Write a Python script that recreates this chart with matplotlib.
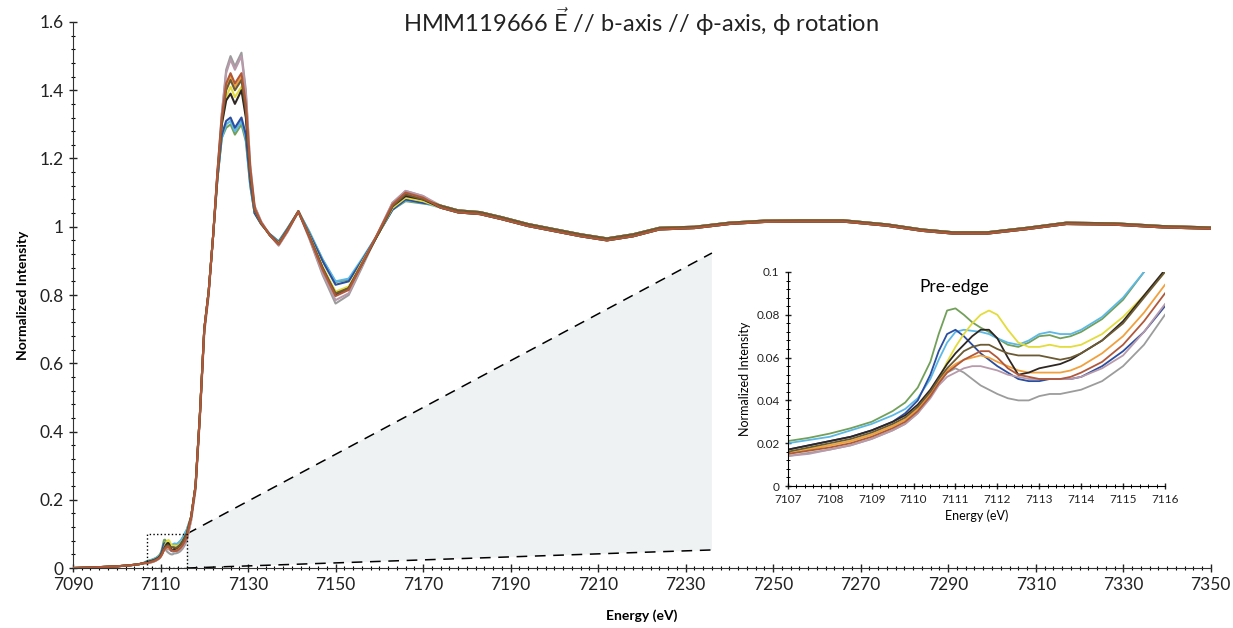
import numpy as np
import matplotlib
matplotlib.use('Agg')
import matplotlib.pyplot as plt
from matplotlib.ticker import MultipleLocator, FuncFormatter

plt.rcParams['font.family'] = ['Lato', 'DejaVu Sans']
plt.rcParams['mathtext.fontset'] = 'custom'
plt.rcParams['mathtext.rm'] = 'Lato'

# ---- data ----
colors = ['#72a05a', '#5cb8e6', '#2b4ea0', '#e3dc3c', '#9c9c9c',
          '#b89aaa', '#f2a03c', '#2e2622', '#6b5a33', '#b0583a']

e_low = [7090, 7095, 7100, 7103, 7105, 7106]
low = [0.0, 0.002, 0.005, 0.008, 0.011, 0.014]

e_pre = [7107, 7107.5, 7108, 7108.5, 7109, 7109.5, 7109.8, 7110.1, 7110.4, 7110.6,
         7110.8, 7111.0, 7111.2, 7111.4, 7111.6, 7111.8, 7112.0, 7112.25, 7112.5,
         7112.75, 7113, 7113.25, 7113.5, 7113.75, 7114, 7114.5, 7115, 7115.5, 7116]
pre_green = [.021, .0225, .0245, .027, .030, .035, .039, .046, .058, .071, .082, .083, .080,
             .0765, .074, .072, .069, .066, .065, .067, .070, .0705, .069, .070, .072, .078,
             .087, .100, .112]
pre_lightblue = [.020, .0215, .023, .026, .029, .033, .036, .041, .050, .059, .067, .072, .073,
                 .0725, .072, .071, .069, .067, .066, .068, .071, .072, .071, .071, .073, .079,
                 .088, .100, .112]
pre_darkblue = [.017, .019, .021, .023, .026, .030, .034, .040, .052, .063, .071, .073, .070,
                .066, .062, .059, .056, .053, .050, .049, .049, .050, .050, .050, .051, .056,
                .063, .072, .084]
pre_yellow = [.016, .0175, .019, .021, .024, .028, .031, .036, .043, .050, .058, .065, .071,
              .076, .080, .082, .080, .073, .067, .065, .065, .066, .065, .065, .066, .071,
              .079, .089, .100]
pre_grey = [.014, .0155, .017, .019, .022, .026, .029, .034, .042, .048, .053, .055, .053,
            .050, .047, .045, .043, .041, .040, .040, .042, .043, .043, .044, .045, .049,
            .056, .066, .080]
pre_mauve = [.014, .015, .017, .019, .022, .026, .029, .034, .041, .047, .051, .053, .055,
             .056, .056, .055, .054, .052, .051, .050, .050, .050, .050, .050, .051, .055,
             .061, .072, .085]
pre_orange = [.015, .017, .019, .021, .024, .028, .031, .036, .043, .049, .054, .057, .059,
              .060, .061, .060, .058, .056, .054, .053, .053, .053, .053, .054, .056, .062,
              .070, .081, .094]
pre_black = [.017, .019, .021, .023, .026, .030, .033, .038, .045, .051, .057, .062, .066,
             .070, .073, .073, .069, .060, .052, .053, .055, .056, .057, .059, .062, .068,
             .077, .089, .101]
pre_darkolive = [.016, .018, .020, .022, .025, .029, .032, .037, .044, .050, .055, .059, .063,
                 .065, .066, .066, .064, .062, .061, .061, .061, .060, .059, .060, .062, .068,
                 .076, .088, .100]
pre_brown = [.015, .0165, .018, .020, .023, .027, .030, .035, .042, .048, .053, .056, .059,
             .061, .063, .063, .060, .055, .052, .051, .050, .050, .050, .051, .053, .058,
             .066, .077, .090]

e_edge = [7117, 7118, 7119, 7120, 7121, 7122, 7123, 7124, 7125, 7126, 7127, 7128.5,
          7129.5, 7130.5, 7131.5, 7133, 7135, 7137, 7139, 7141.5, 7144, 7147, 7150,
          7153, 7156, 7160, 7163, 7166, 7170]
edge_green = [0.15, 0.24, 0.45, 0.70, 0.81, 0.97, 1.14, 1.26, 1.29, 1.30, 1.27, 1.30, 1.25, 1.12,
              1.04, 1.008, 0.978, 0.957, 0.995, 1.045, 0.985, 0.905, 0.838, 0.845, 0.90, 0.985,
              1.05, 1.075, 1.068]
edge_lightblue = [0.15, 0.24, 0.45, 0.70, 0.81, 0.97, 1.14, 1.26, 1.30, 1.31, 1.28, 1.31, 1.26, 1.12,
                  1.04, 1.008, 0.978, 0.957, 0.995, 1.045, 0.985, 0.905, 0.84, 0.848, 0.905, 0.985,
                  1.05, 1.078, 1.07]
edge_darkblue = [0.15, 0.24, 0.45, 0.70, 0.81, 0.97, 1.14, 1.27, 1.31, 1.32, 1.29, 1.32, 1.27, 1.13,
                 1.04, 1.008, 0.978, 0.955, 0.993, 1.045, 0.98, 0.90, 0.83, 0.84, 0.90, 0.985,
                 1.05, 1.08, 1.07]
edge_yellow = [0.15, 0.24, 0.45, 0.70, 0.81, 0.97, 1.15, 1.30, 1.38, 1.41, 1.38, 1.41, 1.33, 1.15,
               1.05, 1.010, 0.976, 0.952, 0.990, 1.045, 0.975, 0.885, 0.81, 0.825, 0.895, 0.985,
               1.055, 1.085, 1.075]
edge_grey = [0.14, 0.23, 0.44, 0.69, 0.80, 0.97, 1.16, 1.33, 1.46, 1.50, 1.47, 1.51, 1.40, 1.18,
             1.06, 1.015, 0.975, 0.945, 0.985, 1.045, 0.965, 0.86, 0.775, 0.80, 0.88, 0.99,
             1.07, 1.105, 1.09]
edge_mauve = [0.14, 0.23, 0.44, 0.69, 0.80, 0.97, 1.16, 1.33, 1.45, 1.49, 1.46, 1.50, 1.39, 1.18,
              1.06, 1.015, 0.975, 0.945, 0.985, 1.045, 0.967, 0.865, 0.785, 0.805, 0.885, 0.99,
              1.07, 1.105, 1.09]
edge_orange = [0.15, 0.24, 0.45, 0.70, 0.81, 0.97, 1.15, 1.31, 1.41, 1.44, 1.41, 1.44, 1.35, 1.16,
               1.05, 1.010, 0.975, 0.950, 0.990, 1.045, 0.972, 0.878, 0.80, 0.818, 0.89, 0.985,
               1.06, 1.09, 1.08]
edge_black = [0.15, 0.24, 0.45, 0.70, 0.81, 0.97, 1.15, 1.30, 1.37, 1.39, 1.36, 1.40, 1.32, 1.15,
              1.05, 1.010, 0.975, 0.950, 0.990, 1.045, 0.972, 0.88, 0.80, 0.82, 0.89, 0.985,
              1.06, 1.09, 1.08]
edge_darkolive = [0.15, 0.24, 0.45, 0.70, 0.81, 0.97, 1.15, 1.31, 1.40, 1.43, 1.40, 1.43, 1.34, 1.16,
                  1.05, 1.010, 0.975, 0.950, 0.990, 1.045, 0.972, 0.88, 0.805, 0.82, 0.89, 0.985,
                  1.06, 1.095, 1.08]
edge_brown = [0.15, 0.24, 0.45, 0.70, 0.81, 0.97, 1.16, 1.32, 1.42, 1.45, 1.42, 1.45, 1.36, 1.17,
              1.055, 1.012, 0.975, 0.948, 0.988, 1.045, 0.970, 0.875, 0.797, 0.815, 0.89, 0.99,
              1.065, 1.10, 1.085]

e_tail = [7174, 7178, 7183, 7188, 7194, 7200, 7206, 7212, 7218, 7224, 7232, 7240, 7248,
          7256, 7266, 7276, 7284, 7291, 7299, 7308, 7317, 7328, 7339, 7350]
tail_hi = [1.062, 1.048, 1.043, 1.028, 1.008, 0.993, 0.978, 0.966, 0.978, 0.997, 1.000, 1.012,
           1.018, 1.019, 1.019, 1.007, 0.992, 0.984, 0.984, 0.997, 1.012, 1.010, 1.002, 0.998]
tail_lo = [1.056, 1.042, 1.037, 1.022, 1.002, 0.987, 0.972, 0.960, 0.972, 0.992, 0.996, 1.008,
           1.014, 1.015, 1.015, 1.003, 0.988, 0.980, 0.980, 0.993, 1.008, 1.006, 0.998, 0.994]

pre_sets = [pre_green, pre_lightblue, pre_darkblue, pre_yellow, pre_grey,
            pre_mauve, pre_orange, pre_black, pre_darkolive, pre_brown]
edge_sets = [edge_green, edge_lightblue, edge_darkblue, edge_yellow, edge_grey,
             edge_mauve, edge_orange, edge_black, edge_darkolive, edge_brown]
tail_sets = [tail_hi, tail_lo, tail_hi, tail_lo, tail_lo,
             tail_hi, tail_hi, tail_lo, tail_hi, tail_lo]

title = 'HMM119666 $\\vec{\\mathrm{E}}$ // b-axis // \u03d5-axis, \u03d5 rotation'

fig = plt.figure(figsize=(12.33, 6.28), dpi=100)
ax = fig.add_axes([0.0592, 0.0955, 0.9228, 0.8695])

energy = np.concatenate([e_low, e_pre, e_edge, e_tail])
for c, p, ed, t in zip(colors, pre_sets, edge_sets, tail_sets):
    y = np.concatenate([low, p, ed, t])
    ax.plot(energy, y, color=c, lw=1.5, zorder=3, solid_joinstyle='round')

# zoom box and connector to the inset
ax.fill([7116, 7236, 7236, 7116], [0.1, 0.923, 0.053, 0.0], color='#eef2f3', zorder=1, lw=0)
ax.plot([7107, 7116, 7116, 7107, 7107], [0, 0, 0.1, 0.1, 0], ls=':', color='black', lw=1.0, zorder=4)
ax.plot([7116, 7236], [0.1, 0.923], color='black', lw=1.1, dashes=(7, 5), zorder=2)
ax.plot([7116, 7236], [0.0, 0.053], color='black', lw=1.1, dashes=(7, 5), zorder=2)

ax.set_xlim(7090, 7350)
ax.set_ylim(0, 1.6)
ax.set_xticks(np.arange(7090, 7351, 20))
ax.xaxis.set_minor_locator(MultipleLocator(2))
ax.yaxis.set_major_locator(MultipleLocator(0.2))
ax.yaxis.set_minor_locator(MultipleLocator(0.04))
ax.yaxis.set_major_formatter(FuncFormatter(lambda v, _: '%g' % round(v, 3)))
ax.tick_params(which='major', direction='inout', length=6, width=1, labelsize=12.5, colors='#222222')
ax.tick_params(which='minor', direction='inout', length=3, width=0.8)
for s in ['top', 'right']:
    ax.spines[s].set_visible(False)
ax.spines['left'].set_color('#333333')
ax.spines['bottom'].set_color('#333333')
ax.set_xlabel('Energy (eV)', fontsize=10, fontweight='bold', labelpad=12)
ax.set_ylabel('Normalized Intensity', fontsize=10, fontweight='bold', labelpad=8)
fig.text(0.52, 0.966, title, ha='center', va='center', fontsize=17, color='#222222')

# inset: pre-edge
ins = fig.add_axes([0.639, 0.2261, 0.3058, 0.3408])
ins.set_zorder(5)
for c, p in zip(colors, pre_sets):
    ins.plot(e_pre, p, color=c, lw=1.3, solid_joinstyle='round')
ins.set_xlim(7107, 7116)
ins.set_ylim(0, 0.1)
ins.xaxis.set_major_locator(MultipleLocator(1))
ins.xaxis.set_minor_locator(MultipleLocator(0.2))
ins.yaxis.set_major_locator(MultipleLocator(0.02))
ins.yaxis.set_minor_locator(MultipleLocator(0.004))
ins.yaxis.set_major_formatter(FuncFormatter(lambda v, _: '%g' % round(v, 3)))
ins.tick_params(which='major', direction='inout', length=5, width=1, labelsize=8.5, colors='#222222')
ins.tick_params(which='minor', direction='inout', length=3, width=0.7)
for s in ['top', 'right']:
    ins.spines[s].set_visible(False)
ins.set_xlabel('Energy (eV)', fontsize=9, labelpad=3)
ins.set_ylabel('Normalized Intensity', fontsize=9, labelpad=4)
ins.text(0.44, 0.93, 'Pre-edge', transform=ins.transAxes, ha='center', va='center', fontsize=12.5)

fig.savefig('out.png', dpi=100)
